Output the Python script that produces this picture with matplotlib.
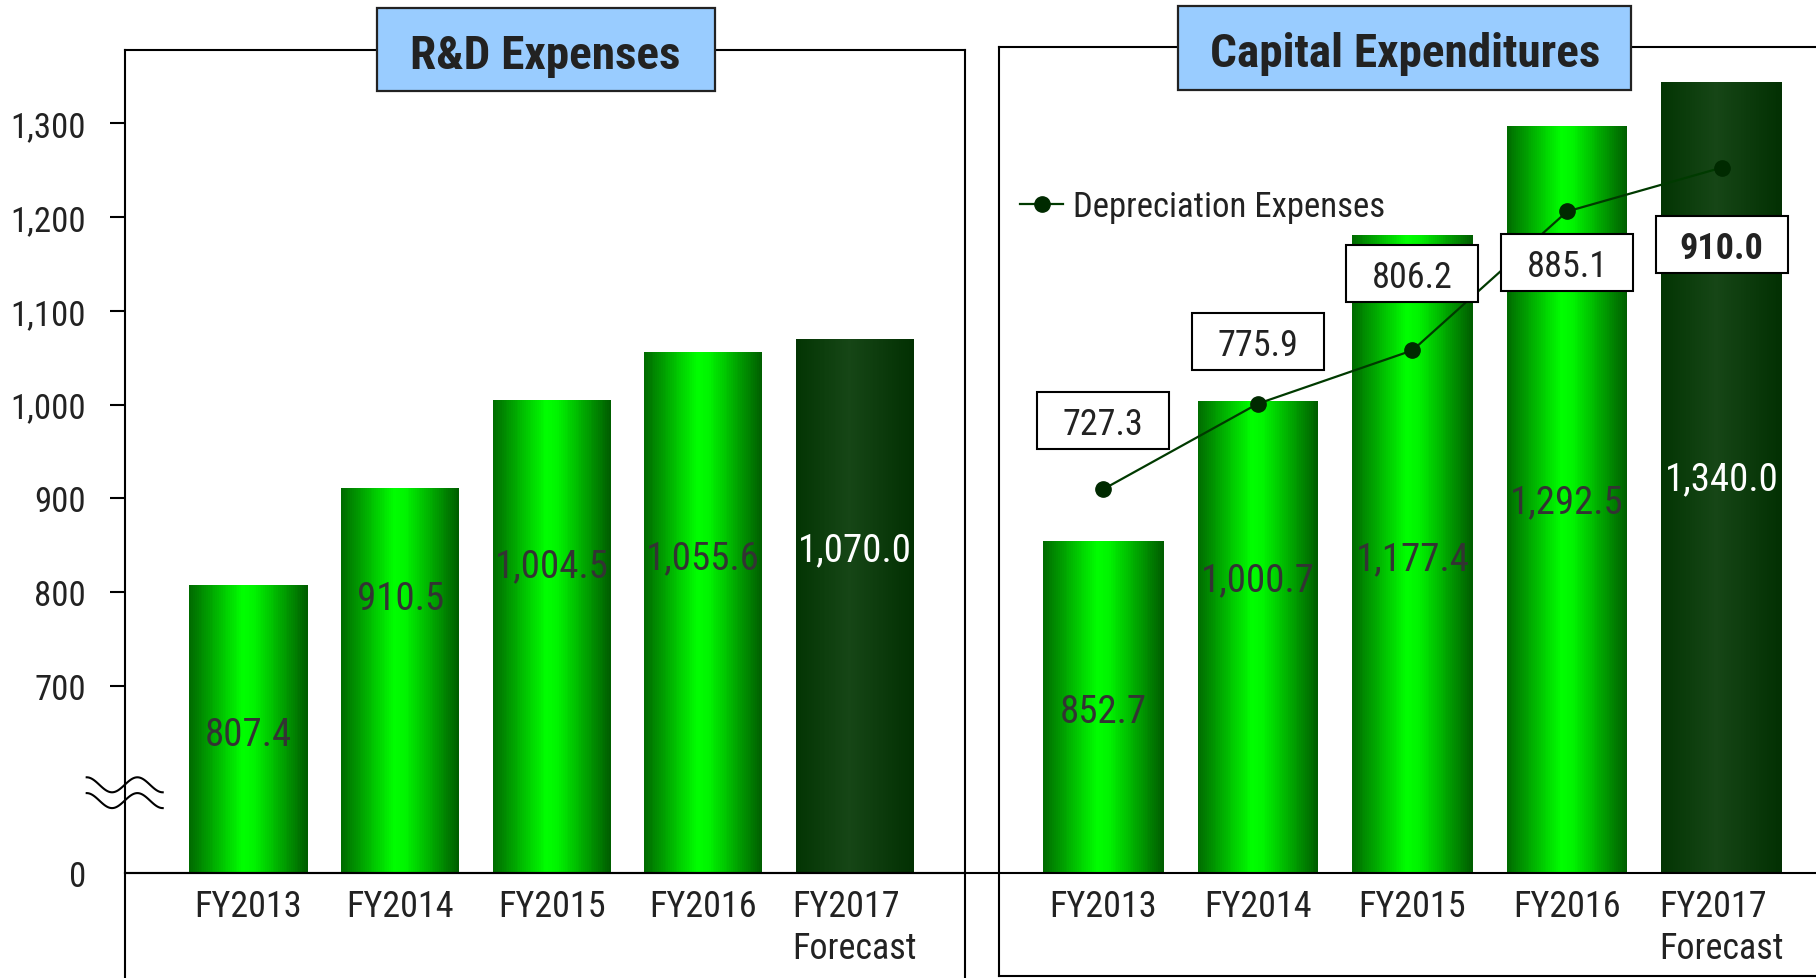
import numpy as np
import matplotlib
matplotlib.use("Agg")
import matplotlib.pyplot as plt
from matplotlib.colors import LinearSegmentedColormap
from matplotlib.patches import Rectangle
from matplotlib.path import Path

plt.rcParams['font.family'] = ['Roboto Condensed', 'DejaVu Sans']

# data
years = ['FY2013', 'FY2014', 'FY2015', 'FY2016', 'FY2017\nForecast']
rd_expenses = [807.4, 910.5, 1004.5, 1055.6, 1070.0]
capex = [852.7, 1000.7, 1177.4, 1292.5, 1340.0]
depreciation = [727.3, 775.9, 806.2, 885.1, 910.0]
y_ticks = [0, 700, 800, 900, 1000, 1100, 1200, 1300]

# where the numbers sit inside the bars (value units)
rd_label_y = [648, 793, 828, 837, 845]
capex_label_y = [672, 811, 834, 894, 919]
# depreciation label boxes: vertical offset from marker (points)
dep_offset = [47, 42, 53, -39, -58]

W, H = 1816, 979
fig = plt.figure(figsize=(W / 100, H / 100), dpi=100)


def fx(px):
    return px / W


def fy(py):
    return 1 - py / H


# broken axis: 0..600 squeezed, above 600 linear
def fwd(v):
    v = np.asarray(v, dtype=float)
    return np.where(v <= 600, v / 6.0, v - 500)


def inv(y):
    y = np.asarray(y, dtype=float)
    return np.where(y <= 100, y * 6.0, y + 500)


green = LinearSegmentedColormap.from_list(
    'g', [(0, '#006c00'), (0.45, '#00ff00'), (0.55, '#00f400'), (1, '#005e00')])
dark = LinearSegmentedColormap.from_list(
    'd', [(0, '#033503'), (0.45, '#164616'), (1, '#023002')])


def gradient_bars(ax, values, width):
    for i, v in enumerate(values):
        cmap = dark if i == len(values) - 1 else green
        xe = np.linspace(i - width / 2, i + width / 2, 65)
        c = np.linspace(0, 1, 64)[None, :]
        ax.pcolormesh(xe, [0, v], c, cmap=cmap, shading='flat',
                      edgecolors='none', antialiased=False, zorder=2)


def setup(ax, xlim, ylim_t):
    ax.set_yscale('function', functions=(fwd, inv))
    ax.set_ylim(float(inv(ylim_t[0])), float(inv(ylim_t[1])))
    ax.set_xlim(*xlim)
    for s in ax.spines.values():
        s.set_linewidth(1.5)
        s.set_color('black')
    ax.spines['bottom'].set_position(('data', 0))
    ax.set_xticks(range(len(years)))
    ax.set_xticklabels(years, fontsize=26, color='#222222')
    ax.get_xticklabels()[-1].set_multialignment('left')
    ax.tick_params(axis='x', length=0, pad=11)


# ---- left panel: R&D ----
ax_l = fig.add_axes([fx(125), fy(996), fx(965) - fx(125), fy(50.7) - fy(996)])
setup(ax_l, (-0.815, 4.726), (-130, 878.7))
gradient_bars(ax_l, rd_expenses, 0.78)
ax_l.set_yticks(y_ticks)
ax_l.set_yticklabels([f'{t:,}' for t in y_ticks], fontsize=25, color='#222222')
ax_l.tick_params(axis='y', length=11, width=1.5, pad=17)
ax_l.yaxis.get_major_ticks()[0].tick1line.set_visible(False)
ax_l.axhline(0, xmin=0, xmax=1.05, color='black', lw=1.5, clip_on=False, zorder=3)
for i, v in enumerate(rd_expenses):
    col = 'white' if i == len(rd_expenses) - 1 else '#333333'
    ax_l.text(i, rd_label_y[i], f'{v:,.1f}', ha='center', va='center',
              fontsize=28, color=col, zorder=4)

# break marks on the left axis
t = np.linspace(0, 3 * np.pi, 100)
xs = np.linspace(86.7, 162.7, 100)
for cy in (785.8, 801.6):
    fig.add_artist(plt.Line2D(fx(xs), fy(cy - 7.5 * np.cos(t)), color='black', lw=1.5))

# ---- right panel: capex ----
ax_r = fig.add_axes([fx(999), fy(977), fx(1830) - fx(999), fy(47.7) - fy(977)])
setup(ax_r, (-0.674, 4.70), (-109.3, 877.2))
gradient_bars(ax_r, capex, 0.78)
ax_r.plot([0, 1], [0, 0], transform=ax_r.transAxes, color='black', lw=1.5, clip_on=False)
for i, v in enumerate(capex):
    col = 'white' if i == len(capex) - 1 else '#333333'
    ax_r.text(i, capex_label_y[i], f'{v:,.1f}', ha='center', va='center',
              fontsize=28, color=col, zorder=4)

ax2 = ax_r.twinx()
ax2.set_ylim(450.8, 978.7)
ax2.set_axis_off()
ax_r.tick_params(axis='y', which='both', left=False, right=False,
                 labelleft=False, labelright=False)
ax2.plot(range(len(depreciation)), depreciation, color='#003a00', lw=1.6,
         marker='o', markersize=11, markerfacecolor='#002a00',
         markeredgecolor='#002a00', label='Depreciation Expenses', zorder=3)


def label_box(x0, y0, width, height, mutation_size):
    cx = x0 + width / 2
    cy = y0 + height / 2 + 3.5
    w, h = 132, 57
    return Path([(cx - w / 2, cy - h / 2), (cx + w / 2, cy - h / 2),
                 (cx + w / 2, cy + h / 2), (cx - w / 2, cy + h / 2),
                 (cx - w / 2, cy - h / 2)], closed=True)


for i, v in enumerate(depreciation):
    last = i == len(depreciation) - 1
    ax2.annotate(f'{v:.1f}', (i, v), xytext=(0, dep_offset[i]),
                 textcoords='offset points', ha='center', va='center',
                 fontsize=26, color='#222222',
                 fontweight='bold' if last else 'normal',
                 bbox=dict(boxstyle=label_box, fc='white', ec='black', lw=1.5),
                 zorder=5)

ax2.legend(loc='center left', bbox_to_anchor=(fx(1020), fy(207.5)),
           bbox_transform=fig.transFigure, frameon=False, fontsize=25,
           handlelength=1.25, handletextpad=0.27, borderpad=0,
           borderaxespad=0, numpoints=1, labelcolor='#222222')

# ---- title boxes ----
for (x0, y0, x1, y1, title, size) in [(376.6, 9, 714.6, 91.7, 'R&D Expenses', 34),
                                       (1178, 7.3, 1631.4, 90.7, 'Capital Expenditures', 34)]:
    fig.add_artist(Rectangle((fx(x0), fy(y1)), fx(x1) - fx(x0), fy(y0) - fy(y1),
                             transform=fig.transFigure, facecolor='#99ccff',
                             edgecolor='#222222', lw=1.6))
    fig.text(fx((x0 + x1) / 2), fy((y0 + y1) / 2 + 5.5), title, ha='center',
             va='center', fontsize=size, fontweight='bold', color='#222222')

fig.savefig('out.png', dpi=100)
